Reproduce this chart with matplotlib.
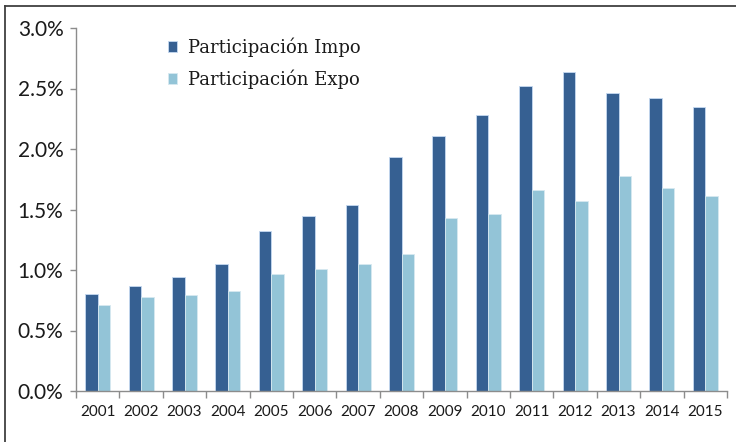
import matplotlib.pyplot as plt
from matplotlib.lines import Line2D
from matplotlib.ticker import FuncFormatter, FixedLocator
import numpy as np

years = ["2001", "2002", "2003", "2004", "2005", "2006", "2007", "2008",
         "2009", "2010", "2011", "2012", "2013", "2014", "2015"]
impo = [0.80, 0.87, 0.94, 1.05, 1.32, 1.45, 1.54, 1.93,
        2.11, 2.28, 2.52, 2.64, 2.46, 2.42, 2.35]
expo = [0.71, 0.78, 0.79, 0.83, 0.97, 1.01, 1.05, 1.13,
        1.43, 1.46, 1.66, 1.57, 1.78, 1.68, 1.61]

fig = plt.figure(figsize=(7.36, 4.42), dpi=100)
ax = fig.add_axes([76 / 736, 1 - 391 / 442, 651 / 736, 363 / 442])

x = np.arange(len(years))
w = 0.29
ax.bar(x - w / 2, impo, w, color="#366092", edgecolor="#c6d9f1", linewidth=0.6,
       label="Participación Impo")
ax.bar(x + w / 2, expo, w, color="#93c4d7", edgecolor="#d7e9f0", linewidth=0.6,
       label="Participación Expo")

ax.set_xlim(-0.5, len(years) - 0.5)
ax.set_ylim(0, 3.0)
ax.set_yticks(np.arange(0, 3.01, 0.5))
ax.yaxis.set_major_formatter(FuncFormatter(lambda v, p: "%.1f%%" % v))
ax.set_xticks(x)
ax.set_xticklabels(years)
ax.xaxis.set_minor_locator(FixedLocator(np.arange(-0.5, len(years), 1.0)))

for s in ["top", "right"]:
    ax.spines[s].set_visible(False)
for s in ["left", "bottom"]:
    ax.spines[s].set_color("#8c8c8c")
    ax.spines[s].set_linewidth(1.0)

ax.tick_params(axis="x", which="major", length=0, pad=10, labelsize=11,
               labelcolor="#1a1a1a")
ax.tick_params(axis="x", which="minor", length=5, color="#8c8c8c", width=1.0)
ax.tick_params(axis="y", length=4, color="#8c8c8c", width=1.0, pad=5,
               labelsize=15, labelcolor="#1a1a1a")
for lab in ax.get_xticklabels() + ax.get_yticklabels():
    lab.set_family(["Lato", "DejaVu Sans"])

leg = ax.legend(loc="upper left", bbox_to_anchor=(0.117, 1.019), frameon=False,
                prop={"family": ["DejaVu Serif"], "size": 13},
                handlelength=0.5, handleheight=0.5, handletextpad=0.6,
                labelspacing=0.7)
for t in leg.get_texts():
    t.set_color("#1a1a1a")

# outer frame (cut off at right and bottom)
fig.add_artist(Line2D([4.5 / 736, 1.0], [1 - 5.5 / 442, 1 - 5.5 / 442],
                      color="#404040", linewidth=1.3))
fig.add_artist(Line2D([4.5 / 736, 4.5 / 736], [0.0, 1 - 5.5 / 442],
                      color="#404040", linewidth=1.3))

plt.savefig("out.png", dpi=100)
